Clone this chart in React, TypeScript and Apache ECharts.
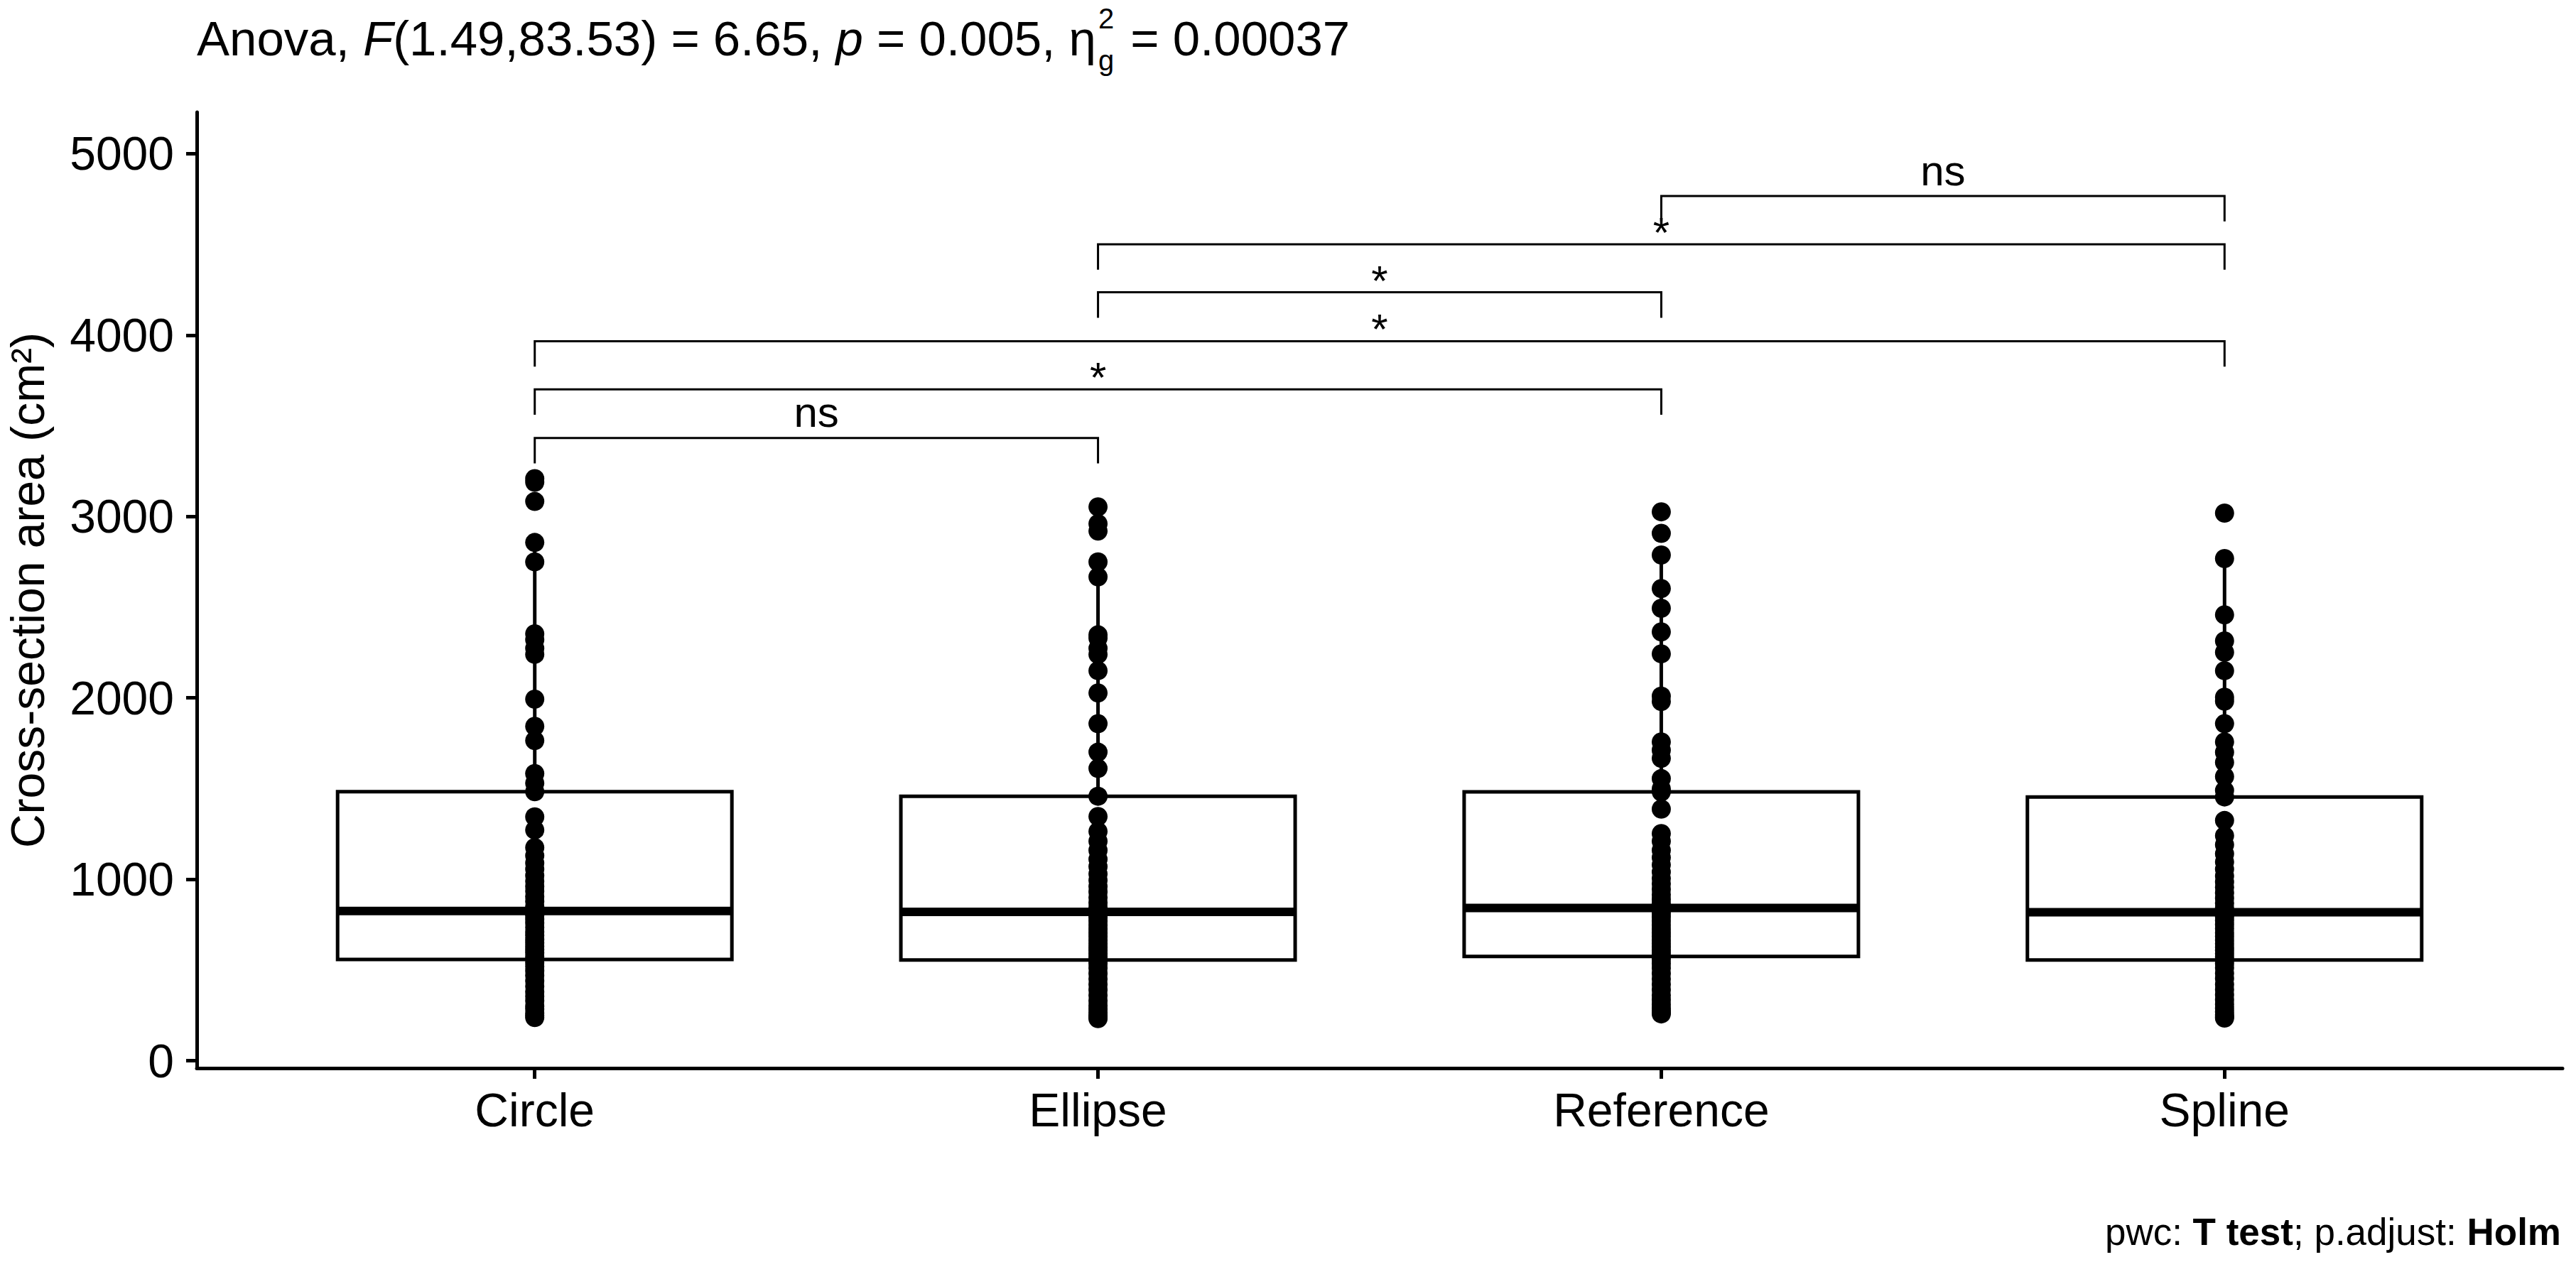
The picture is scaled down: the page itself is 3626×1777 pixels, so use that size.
import React, { useEffect, useRef } from "react";
import * as echarts from "echarts";

// ---------- data ----------
const categories = ["Circle", "Ellipse", "Reference", "Spline"];

const circleValues = [
  238, 248, 262, 285, 300, 330, 355, 380, 410, 440, 470, 495, 520, 540,
  558, 575, 595, 612, 630, 650, 668, 690, 710, 735, 760, 780, 800, 815, 825,
  850, 880, 905, 935, 960, 990, 1020, 1055, 1090, 1130, 1175, 1272, 1344,
  1483,
  1530, 1583, 1765, 1843, 1993, 2240, 2273, 2320, 2353, 2750, 2857, 3083, 3189, 3209,
];
const ellipseValues = [
  232, 240, 250, 265, 285, 305, 330, 360, 390, 420, 450, 480, 510, 535,
  555, 572, 590, 608, 625, 645, 665, 685, 705, 725, 748, 770, 790, 805, 820,
  845, 870, 900, 930, 960, 995, 1030, 1070, 1110, 1160, 1210, 1264, 1346,
  1458,
  1611, 1701, 1858, 2027, 2150, 2240, 2273, 2330, 2348, 2667, 2750, 2920, 2960, 3053,
];
const referenceValues = [
  258, 265, 275, 290, 310, 335, 360, 390, 420, 450, 480, 510, 535, 558,
  575, 592, 610, 628, 646, 665, 685, 705, 725, 748, 770, 792, 812, 828, 842,
  865, 890, 915, 945, 975, 1005, 1040, 1080, 1120, 1160, 1210, 1252, 1387,
  1482,
  1499, 1555, 1667, 1712, 1757, 1980, 2010, 2243, 2364, 2494, 2603, 2788, 2907, 3026,
];
const splineValues = [
  235, 242, 252, 268, 288, 310, 335, 362, 392, 420, 452, 482, 512, 535,
  555, 572, 590, 608, 626, 645, 665, 685, 705, 728, 750, 772, 792, 806, 818,
  842, 868, 895, 925, 955, 985, 1018, 1055, 1095, 1140, 1190, 1240, 1324,
  1454,
  1490, 1566, 1645, 1700, 1757, 1858, 1982, 2004, 2150, 2251, 2314, 2458, 2768, 3019,
];
const groupValues = [circleValues, ellipseValues, referenceValues, splineValues];

// box statistics
const whiskerLow = [238, 232, 258, 235];
const quartile1 = [558, 555, 575, 555];
const medians = [825, 820, 842, 818];
const quartile3 = [1483, 1458, 1482, 1454];
const whiskerHigh = [2857, 2750, 2788, 2768];

const yTicks = [0, 1000, 2000, 3000, 4000, 5000];

// pairwise comparisons
const bracketFrom = ["Circle", "Circle", "Circle", "Ellipse", "Ellipse", "Reference"];
const bracketTo = ["Ellipse", "Reference", "Spline", "Reference", "Spline", "Spline"];
const bracketY = [3433, 3701, 3966, 4236, 4501, 4767];
const bracketLabels = ["ns", "*", "*", "*", "*", "ns"];

// ---------- styling constants ----------
const FONT = '"Liberation Sans", Arial, Helvetica, sans-serif';
const BASE = 66;
const TITLE_SIZE = 69;
const SMALL = 40;
const LABEL_SIZE = 60;
const CAPTION_SIZE = 53;
const BOX_WIDTH = 0.7;
const TIP = 140;
const CENTRAL = 0.3465; // central baseline offset (em) for Liberation Sans

function measure(text: string, font: string): number {
  const c = document.createElement("canvas").getContext("2d");
  if (!c) return text.length * 30;
  c.font = font;
  return c.measureText(text).width;
}

function buildTitle(): any[] {
  const x0 = 277;
  const baseline = 78;
  const supBase = 40;
  const subBase = 99;
  const fnt = (size: number, italic = false) => `${italic ? "italic " : ""}${size}px ${FONT}`;
  const segs: { t: string; italic?: boolean }[] = [
    { t: "Anova, " },
    { t: "F", italic: true },
    { t: "(1.49,83.53) = 6.65, " },
    { t: "p", italic: true },
    { t: " = 0.005, η" },
  ];
  const els: any[] = [];
  let x = x0;
  for (const s of segs) {
    els.push({
      type: "text",
      x,
      y: baseline - CENTRAL * TITLE_SIZE,
      silent: true,
      style: {
        text: s.t,
        fontSize: TITLE_SIZE,
        fontFamily: FONT,
        fontStyle: s.italic ? "italic" : "normal",
        fill: "#000",
        align: "left",
        verticalAlign: "middle",
      },
    });
    x += measure(s.t, fnt(TITLE_SIZE, !!s.italic));
  }
  x += 3;
  els.push({
    type: "text",
    x,
    y: supBase - CENTRAL * SMALL,
    silent: true,
    style: { text: "2", fontSize: SMALL, fontFamily: FONT, fill: "#000", align: "left", verticalAlign: "middle" },
  });
  els.push({
    type: "text",
    x,
    y: subBase - CENTRAL * SMALL,
    silent: true,
    style: { text: "g", fontSize: SMALL, fontFamily: FONT, fill: "#000", align: "left", verticalAlign: "middle" },
  });
  x += Math.max(measure("2", fnt(SMALL)), measure("g", fnt(SMALL))) + 4;
  els.push({
    type: "text",
    x,
    y: baseline - CENTRAL * TITLE_SIZE,
    silent: true,
    style: { text: " = 0.00037", fontSize: TITLE_SIZE, fontFamily: FONT, fill: "#000", align: "left", verticalAlign: "middle" },
  });
  return els;
}

function buildCaption(): any[] {
  const right = 3605;
  const baseline = 1753;
  const segs: { t: string; bold?: boolean }[] = [
    { t: "pwc: " },
    { t: "T test", bold: true },
    { t: "; p.adjust: " },
    { t: "Holm", bold: true },
  ];
  const widths = segs.map((s) => measure(s.t, `${s.bold ? "bold " : ""}${CAPTION_SIZE}px ${FONT}`));
  let x = right - widths.reduce((a, b) => a + b, 0);
  const els: any[] = [];
  segs.forEach((s, i) => {
    els.push({
      type: "text",
      x,
      y: baseline - CENTRAL * CAPTION_SIZE,
      silent: true,
      style: {
        text: s.t,
        fontSize: CAPTION_SIZE,
        fontFamily: FONT,
        fontWeight: s.bold ? "bold" : "normal",
        fill: "#000",
        align: "left",
        verticalAlign: "middle",
      },
    });
    x += widths[i];
  });
  return els;
}

export default function App() {
  const ref = useRef<HTMLDivElement>(null);

  useEffect(() => {
    if (!ref.current) return;
    const chart = echarts.init(ref.current, undefined, { renderer: "svg" });

    const boxData = categories.map((_, i) => [
      i + 1,
      whiskerLow[i],
      quartile1[i],
      medians[i],
      quartile3[i],
      whiskerHigh[i],
    ]);
    const pointData: number[][] = [];
    groupValues.forEach((vals, i) => vals.forEach((v) => pointData.push([i + 1, v])));
    const bracketData = bracketY.map((y, i) => [
      categories.indexOf(bracketFrom[i]) + 1,
      categories.indexOf(bracketTo[i]) + 1,
      y,
    ]);

    const option: any = {
      animation: false,
      backgroundColor: "#fff",
      grid: {
        left: 277,
        right: 19,
        top: 158,
        bottom: 273,
        containLabel: false,
        outerBoundsMode: "none",
      },
      xAxis: {
        type: "value",
        min: 0.4,
        max: 4.6,
        splitLine: { show: false },
        axisLine: { show: true, onZero: false, lineStyle: { color: "#000", width: 5 } },
        axisTick: {
          show: true,
          customValues: [1, 2, 3, 4],
          length: 15,
          lineStyle: { color: "#000", width: 5 },
        },
        axisLabel: {
          customValues: [1, 2, 3, 4],
          formatter: (v: number) => categories[Math.round(v) - 1] ?? "",
          fontSize: BASE,
          fontFamily: FONT,
          color: "#000",
          margin: 26,
        },
      },
      yAxis: {
        type: "value",
        min: -41,
        max: 5229,
        splitLine: { show: false },
        axisLine: { show: true, onZero: false, lineStyle: { color: "#000", width: 5 } },
        axisTick: {
          show: true,
          customValues: yTicks,
          length: 15,
          lineStyle: { color: "#000", width: 5 },
        },
        axisLabel: {
          customValues: yTicks,
          formatter: (v: number) => String(Math.round(v)),
          fontSize: BASE,
          fontFamily: FONT,
          color: "#000",
          margin: 32,
        },
      },
      graphic: [
        ...buildTitle(),
        ...buildCaption(),
        {
          type: "text",
          x: 39,
          y: 831,
          rotation: Math.PI / 2,
          silent: true,
          style: {
            text: "Cross-section area (cm²)",
            fontSize: BASE,
            fontFamily: FONT,
            fill: "#000",
            align: "center",
            verticalAlign: "middle",
          },
        },
      ],
      series: [
        {
          type: "custom",
          name: "box",
          data: boxData,
          encode: { x: 0, y: [1, 2, 3, 4, 5] },
          renderItem: (_params: any, api: any) => {
            const x = api.value(0);
            const low = api.coord([x, api.value(1)]);
            const q1 = api.coord([x, api.value(2)]);
            const med = api.coord([x, api.value(3)]);
            const q3 = api.coord([x, api.value(4)]);
            const high = api.coord([x, api.value(5)]);
            const halfW = api.size([BOX_WIDTH, 0])[0] / 2;
            const stroke = { stroke: "#000", lineWidth: 5 };
            return {
              type: "group",
              children: [
                { type: "line", shape: { x1: low[0], y1: low[1], x2: q1[0], y2: q1[1] }, style: stroke },
                { type: "line", shape: { x1: q3[0], y1: q3[1], x2: high[0], y2: high[1] }, style: stroke },
                {
                  type: "rect",
                  shape: { x: q1[0] - halfW, y: q3[1], width: 2 * halfW, height: q1[1] - q3[1] },
                  style: { fill: "#fff", stroke: "#000", lineWidth: 5 },
                },
                {
                  type: "line",
                  shape: { x1: med[0] - halfW, y1: med[1], x2: med[0] + halfW, y2: med[1] },
                  style: { stroke: "#000", lineWidth: 12 },
                },
              ],
            };
          },
          z: 2,
        },
        {
          type: "scatter",
          name: "points",
          data: pointData,
          symbol: "circle",
          symbolSize: 27,
          itemStyle: { color: "#000", opacity: 1 },
          z: 3,
        },
        {
          type: "custom",
          name: "brackets",
          data: bracketData,
          encode: { x: [0, 1], y: 2 },
          clip: false,
          renderItem: (params: any, api: any) => {
            const y = api.value(2);
            const p1 = api.coord([api.value(0), y]);
            const p2 = api.coord([api.value(1), y]);
            const tipY = api.coord([api.value(0), y - TIP])[1];
            const label = bracketLabels[params.dataIndex];
            const inkBottom = p1[1] - 15;
            const baseline = inkBottom + (label === "*" ? 0.32 * LABEL_SIZE : 0);
            return {
              type: "group",
              children: [
                {
                  type: "polyline",
                  shape: {
                    points: [
                      [p1[0], tipY],
                      [p1[0], p1[1]],
                      [p2[0], p2[1]],
                      [p2[0], tipY],
                    ],
                  },
                  style: { stroke: "#000", lineWidth: 3, fill: "none" },
                },
                {
                  type: "text",
                  x: (p1[0] + p2[0]) / 2,
                  y: baseline - CENTRAL * LABEL_SIZE,
                  style: {
                    text: label,
                    fontSize: LABEL_SIZE,
                    fontFamily: FONT,
                    fill: "#000",
                    align: "center",
                    verticalAlign: "middle",
                  },
                },
              ],
            };
          },
          z: 4,
        },
      ],
    };

    chart.setOption(option);
    return () => chart.dispose();
  }, []);

  return (
    <div
      ref={ref}
      style={{ position: "fixed", left: 0, top: 0, width: 3626, height: 1777, background: "#fff" }}
    />
  );
}
